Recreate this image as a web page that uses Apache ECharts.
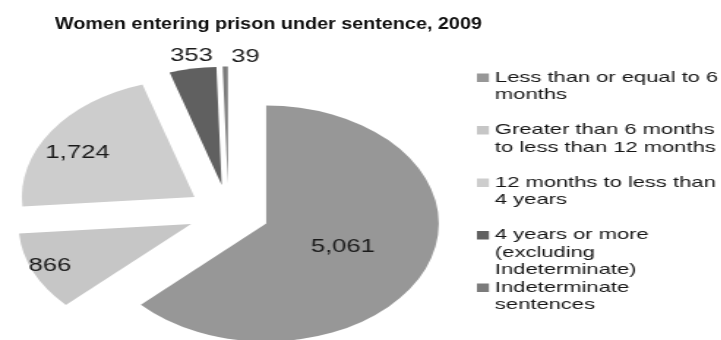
<!DOCTYPE html>
<html>
<head>
<meta charset="utf-8">
<title>Women entering prison under sentence, 2009</title>
<script src="https://cdn.jsdelivr.net/npm/echarts@6/dist/echarts.min.js"></script>
<style>
  html, body { margin: 0; padding: 0; background: #ffffff; }
  #stage { position: relative; width: 721px; height: 340px; overflow: hidden; background: #ffffff; }
  /* the artwork is drawn wide: each layer is laid out narrow and stretched horizontally */
  #main { position: absolute; left: 0; top: 0; width: 493.8px; height: 340px; transform: scaleX(1.46); transform-origin: 0 0; }
  #heading { position: absolute; left: 0; top: 0; width: 627px; height: 60px; transform: scaleX(1.15); transform-origin: 0 0; }
</style>
</head>
<body>
<div id="stage">
  <div id="main"></div>
  <div id="heading"></div>
</div>
<script>
// Sentence length categories (legend text, wrapped as printed)
const categories = [
  'Less than or equal to 6\nmonths',
  'Greater than 6 months\nto less than 12 months',
  '12 months to less than\n4 years',
  '4 years or more\n(excluding\nIndeterminate)',
  'Indeterminate\nsentences'
];
// Number of women received under sentence
const counts = [5061, 866, 1724, 353, 39];
const chartTitle = 'Women entering prison under sentence, 2009';

// Styling
const colors = ['#979797', '#c6c6c6', '#cdcdcd', '#606060', '#7b7b7b'];
const labelShift = [[-4.5, -1], [-40, 17], [-28.5, -9], [-10.3, -68], [13, -65]];
const FONT = '"Liberation Sans", Arial, Helvetica, sans-serif';
const LINE = 17.5;

const sliceData = categories.map((name, i) => ({
  name: name,
  value: counts[i],
  selected: true,
  itemStyle: { color: colors[i] }
}));

// Legend entries: coloured square on the first line, three lines per entry
const rich = {
  ind: { width: 12.3, height: LINE, lineHeight: LINE },
  g: { width: 4.1, lineHeight: LINE },
  t: { fontSize: 15, lineHeight: LINE, color: '#151515', fontFamily: FONT }
};
colors.forEach((c, i) => {
  rich['m' + i] = { width: 8.2, height: 8.5, backgroundColor: c, lineHeight: LINE };
});

// Exploded pie with value labels and legend
const mainChart = echarts.init(document.getElementById('main'), null, { renderer: 'canvas', width: 493.8, height: 340 });
mainChart.setOption({
  animation: false,
  legend: {
    orient: 'vertical',
    left: 321,
    top: 69,
    padding: 0,
    itemGap: 0,
    itemWidth: 0,
    itemHeight: LINE * 3,
    icon: 'none',
    selectedMode: false,
    data: categories,
    formatter: name => {
      const idx = categories.indexOf(name);
      const lines = name.split('\n');
      while (lines.length < 3) lines.push('');
      return lines.map((l, i) => (i === 0 ? '{m' + idx + '|}{g|}' : '{ind|}') + (l ? '{t|' + l + '}' : '')).join('\n');
    },
    textStyle: { fontFamily: FONT, fontSize: 15, color: '#151515', rich: rich }
  },
  series: [{
    type: 'pie',
    center: [156.2, 212.5],
    radius: 118,
    startAngle: 90,
    clockwise: true,
    avoidLabelOverlap: false,
    selectedMode: 'multiple',
    selectedOffset: 28,
    data: sliceData,
    itemStyle: { borderWidth: 0 },
    label: {
      show: true,
      position: 'inside',
      formatter: p => p.value.toLocaleString('en-US'),
      color: '#1a1a1a',
      fontSize: 17.5,
      fontFamily: FONT
    },
    labelLine: { show: false },
    labelLayout: p => ({ dx: labelShift[p.dataIndex][0], dy: labelShift[p.dataIndex][1] }),
    emphasis: { disabled: true },
    select: { itemStyle: { borderWidth: 0 }, label: { color: '#1a1a1a' } }
  }]
});

// Heading
const headingChart = echarts.init(document.getElementById('heading'), null, { renderer: 'canvas', width: 627, height: 60 });
headingChart.setOption({
  animation: false,
  title: {
    text: chartTitle,
    left: 47.8,
    top: 16,
    padding: 0,
    textStyle: { fontSize: 17.2, fontWeight: 'bold', color: '#111111', fontFamily: FONT }
  }
});
</script>
</body>
</html>
